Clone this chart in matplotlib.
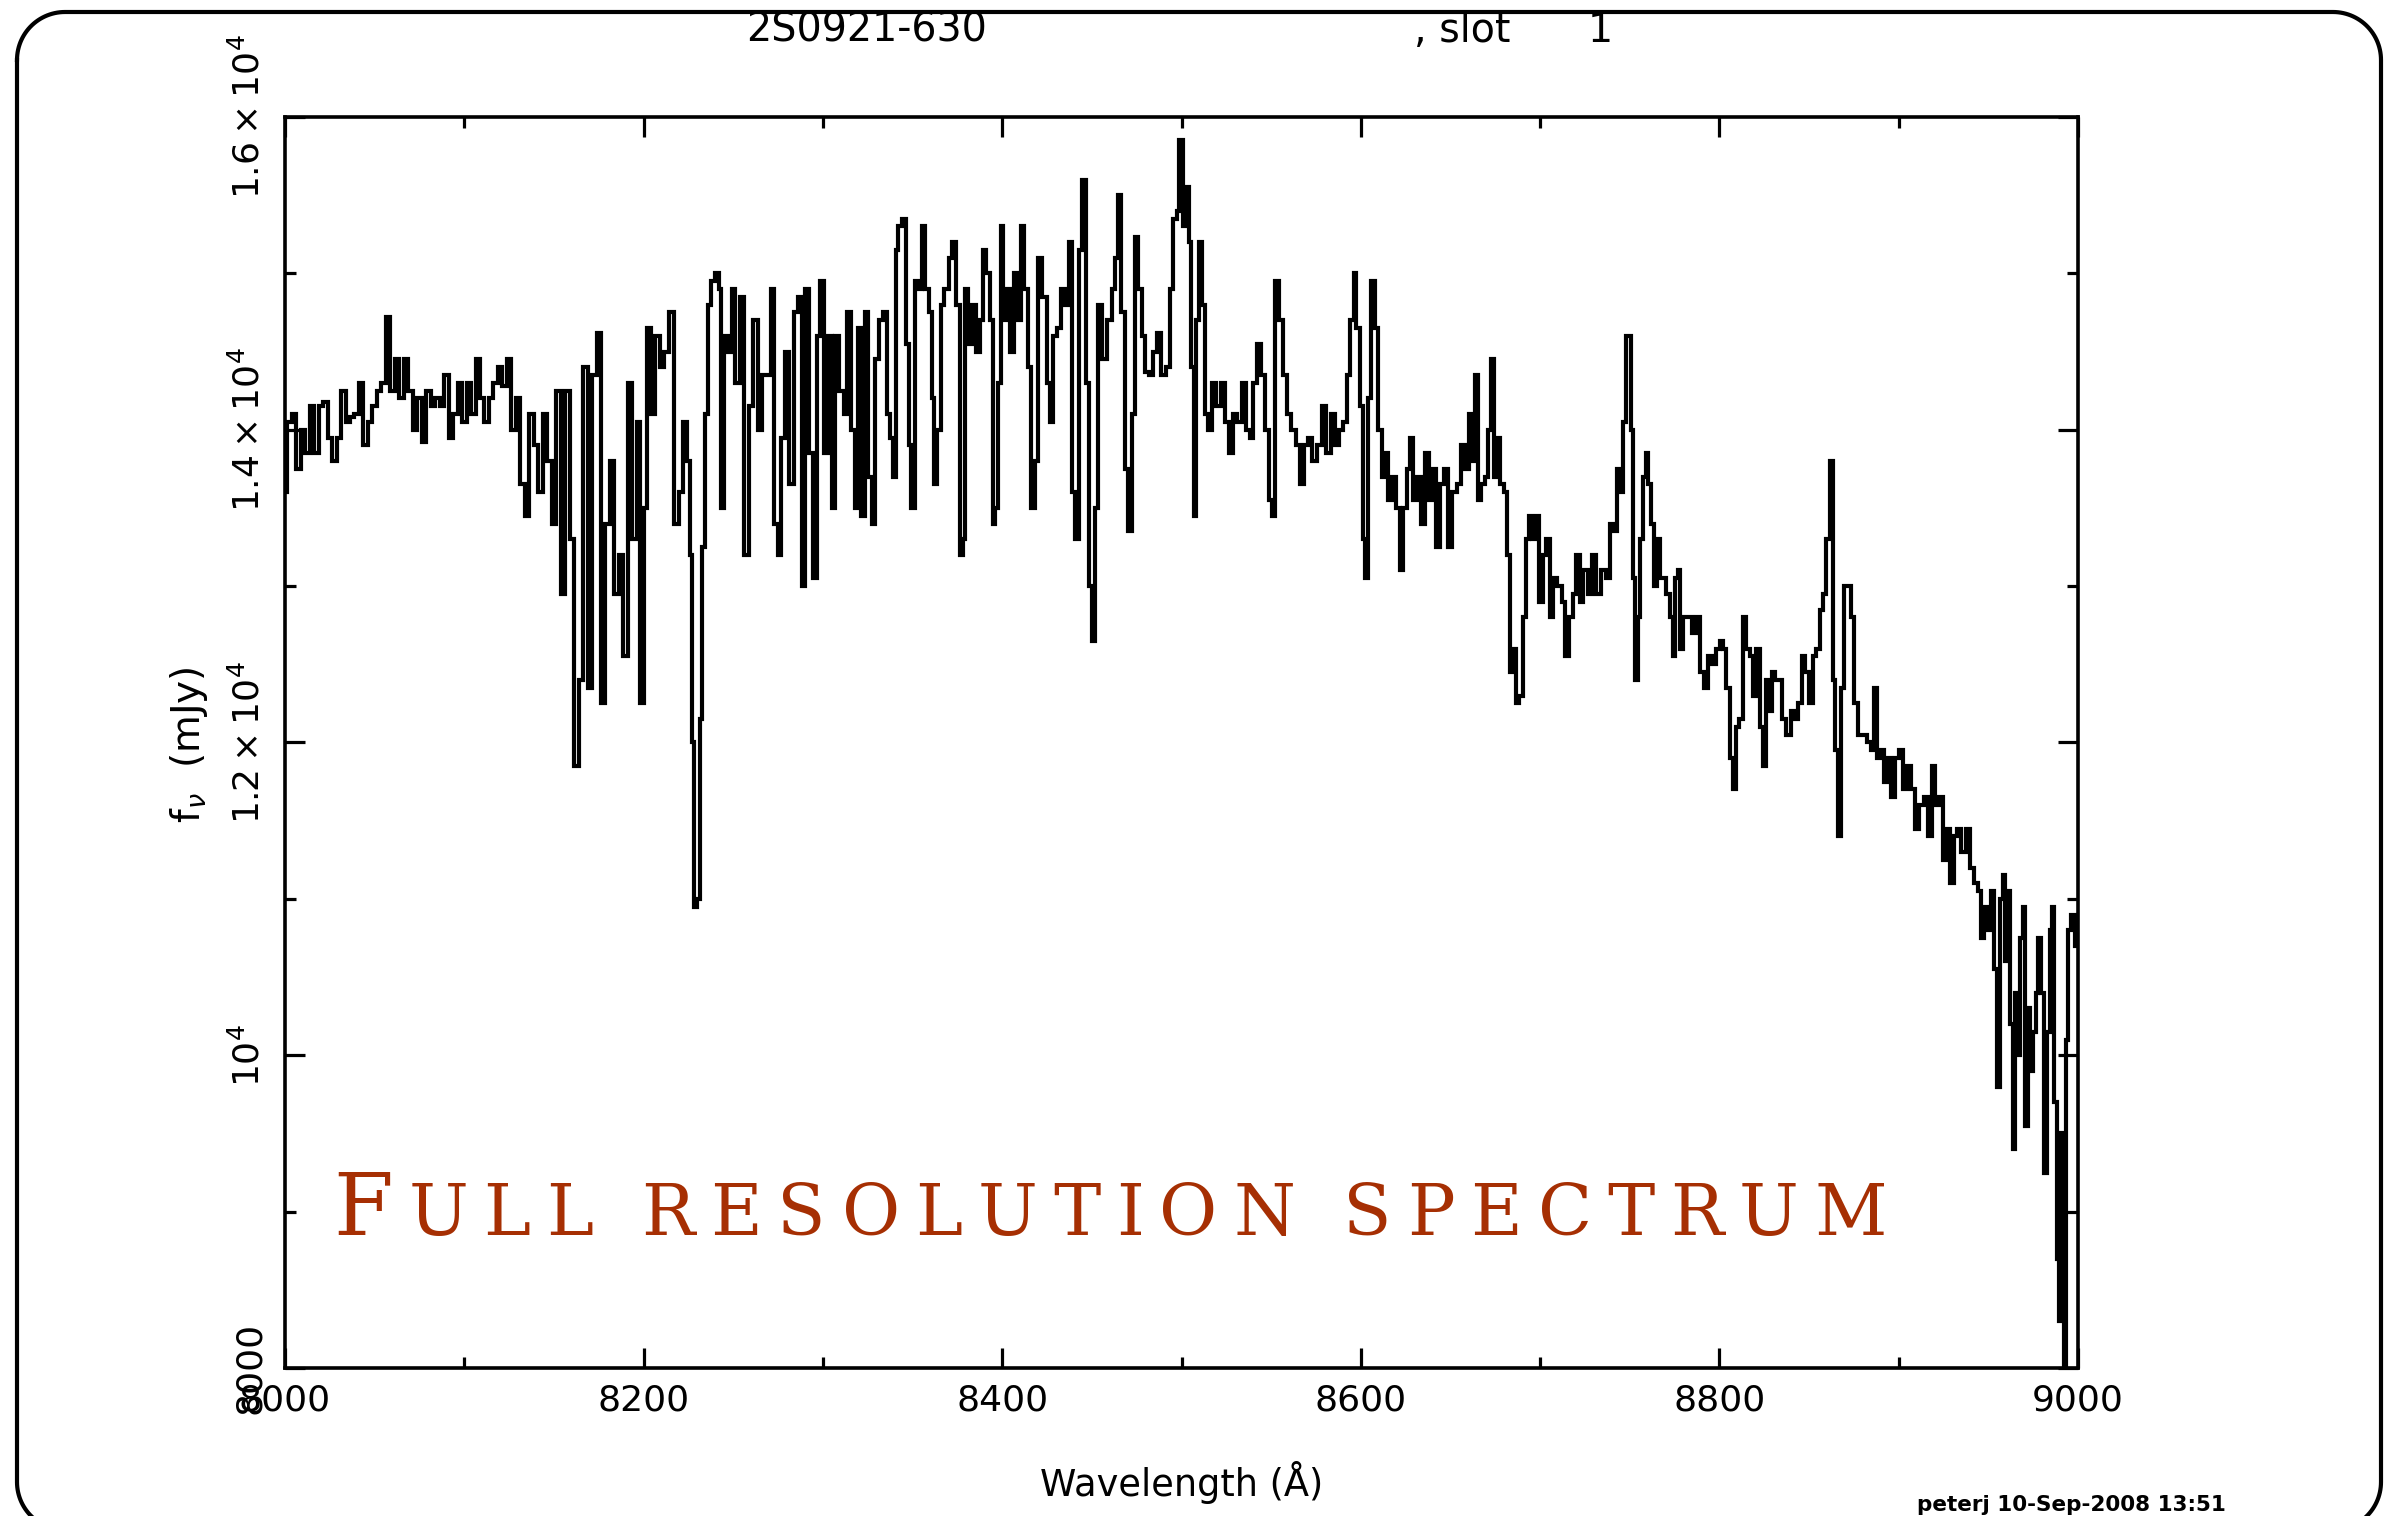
import numpy as np
import matplotlib
matplotlib.use('Agg')
import matplotlib.pyplot as plt
from matplotlib.ticker import MultipleLocator

# ---------------- data ----------------
wl_a = [8000.0, 8002.5, 8005.0, 8007.5, 8010.0, 8012.5, 8015.0, 8017.5, 8020.0, 8022.5,
        8025.0, 8027.5, 8030.0, 8032.5, 8035.0, 8037.5, 8040.0, 8042.5, 8045.0, 8047.5,
        8050.0, 8052.5, 8055.0, 8057.5, 8060.0, 8062.5, 8065.0, 8067.5, 8070.0, 8072.5,
        8075.0, 8077.5, 8080.0, 8082.5, 8085.0, 8087.5, 8090.0, 8092.5, 8095.0, 8097.5,
        8100.0, 8102.5, 8105.0, 8107.5, 8110.0, 8112.5, 8115.0, 8117.5, 8120.0, 8122.5,
        8125.0, 8127.5, 8130.0, 8132.5, 8135.0, 8137.5, 8140.0, 8142.5, 8145.0, 8147.5,
        8150.0, 8152.5, 8155.0, 8157.5, 8160.0, 8162.5, 8165.0, 8167.5, 8170.0, 8172.5,
        8175.0, 8177.5, 8180.0, 8182.5, 8185.0, 8187.5, 8190.0, 8192.5, 8195.0, 8197.5,
        8199.0, 8201.0, 8202.6, 8205.2, 8207.7, 8210.3, 8212.9, 8215.8, 8218.4, 8220.9,
        8223.1, 8225.0, 8226.4, 8227.6, 8229.0, 8230.5, 8232.0, 8233.5, 8235.0, 8236.5,
        8238.9, 8241.1, 8242.6, 8243.9, 8245.8, 8248.2]
fx_a = [13600, 14050, 14100, 13750, 14000, 13850, 14150, 13850, 14150, 14180,
        13950, 13800, 13950, 14250, 14050, 14080, 14100, 14300, 13900, 14050,
        14150, 14250, 14300, 14720, 14250, 14450, 14200, 14450, 14250, 14000,
        14200, 13920, 14250, 14150, 14200, 14150, 14350, 13950, 14100, 14300,
        14050, 14300, 14100, 14450, 14200, 14050, 14200, 14300, 14400, 14280,
        14450, 14000, 14200, 13650, 13450, 14100, 13900, 13600, 14100, 13800,
        13400, 14250, 12950, 14250, 13300, 11850, 12400, 14400, 12350, 14350,
        14620, 12250, 13400, 13800, 12950, 13200, 12550, 14300, 13300, 14050,
        12250, 13500, 14650, 14100, 14600, 14400, 14500, 14750, 13400, 13600,
        14050, 13800, 13200, 12000, 10950, 11000, 12150, 13250, 14100, 14800,
        14950, 15000, 14900, 13500, 14600, 14500]

wl_b = [8250.0, 8252.4, 8255.0, 8257.4, 8260.0, 8262.5, 8265.1, 8267.5, 8270.1, 8271.8,
        8273.8, 8275.7, 8277.5, 8279.7, 8282.5, 8285.0, 8287.6, 8288.7, 8291.3, 8293.7,
        8295.5, 8297.6, 8299.3, 8301.7, 8303.9, 8305.8, 8307.6, 8310.4, 8312.7, 8314.5,
        8316.9, 8318.8, 8320.6, 8322.1, 8324.4, 8326.2, 8328.1, 8330.3, 8332.7, 8334.6,
        8336.4, 8338.3, 8340.0, 8341.1, 8343.0, 8345.2, 8347.0, 8348.5, 8350.0, 8352.2,
        8354.1, 8356.3, 8357.8, 8360.1, 8361.5, 8362.8, 8364.7, 8366.6, 8369.0, 8371.2,
        8373.1, 8375.5, 8377.3, 8378.6, 8380.1, 8382.0, 8384.2, 8386.6, 8388.5, 8389.8,
        8392.2, 8394.1, 8395.4, 8396.9, 8398.7, 8399.7, 8401.5, 8403.4, 8405.8, 8407.7,
        8409.5, 8411.4, 8413.2, 8415.1, 8416.9, 8419.2, 8421.0, 8423.8, 8425.7, 8427.5,
        8429.4, 8431.3, 8434.0, 8435.9, 8438.1, 8439.6, 8441.5, 8443.7, 8445.6, 8447.4,
        8448.9, 8450.8, 8452.6, 8454.5, 8457.3, 8460.1, 8461.9, 8463.8, 8465.3, 8467.5,
        8469.4, 8471.2, 8473.1, 8475.0, 8476.8, 8478.7, 8480.5, 8483.3, 8485.2, 8487.0,
        8489.8, 8492.6, 8494.5, 8496.3, 8498.2, 8499.5]
fx_b = [14900, 14300, 14850, 13200, 14150, 14700, 14000, 14350, 14350, 14900,
        13400, 13200, 13950, 14500, 13650, 14750, 14850, 13000, 14900, 13850,
        13050, 14600, 14950, 13850, 14600, 13500, 14600, 14250, 14100, 14750,
        14000, 13500, 14650, 13450, 14750, 13700, 13400, 14450, 14700, 14750,
        14100, 13950, 13700, 15150, 15300, 15350, 14550, 13900, 13500, 14950,
        14900, 15300, 14900, 14750, 14200, 13650, 14000, 14800, 14900, 15100,
        15200, 14800, 13200, 13300, 14900, 14550, 14800, 14500, 14700, 15150,
        15000, 14700, 13400, 13500, 14300, 15300, 14700, 14900, 14500, 15000,
        14700, 15300, 14900, 14400, 13500, 13800, 15100, 14850, 14300, 14050,
        14600, 14650, 14900, 14800, 15200, 13600, 13300, 15150, 15600, 14300,
        13000, 12650, 13500, 14800, 14450, 14700, 14900, 15100, 15500, 14750,
        13750, 13350, 14100, 15230, 14900, 14600, 14370, 14350, 14500, 14620,
        14350, 14400, 14900, 15350, 15400, 15850]

wl_c = [8500.0, 8501.5, 8503.7, 8505.0, 8506.1, 8507.4, 8508.7, 8510.8, 8512.5, 8514.0,
        8515.8, 8517.7, 8520.4, 8523.2, 8525.1, 8527.5, 8529.7, 8532.5, 8534.8, 8537.2,
        8539.0, 8540.9, 8543.3, 8545.5, 8548.0, 8549.8, 8551.1, 8553.5, 8555.4, 8557.6,
        8559.9, 8562.3, 8565.1, 8566.9, 8569.2, 8571.6, 8574.4, 8576.6, 8579.6, 8581.8,
        8584.6, 8586.4, 8588.9, 8591.1, 8593.3, 8595.2, 8596.7, 8598.5, 8600.4, 8601.9,
        8603.2, 8605.0, 8606.9, 8608.8, 8610.6, 8612.5, 8614.3, 8616.2, 8619.0, 8620.8,
        8622.7, 8624.6, 8626.4, 8628.3, 8630.1, 8632.4, 8634.2, 8637.2, 8639.4, 8641.3,
        8643.1, 8645.4, 8647.8, 8649.7, 8652.1, 8655.2, 8657.1, 8659.5, 8660.8, 8662.7,
        8664.5, 8666.4, 8668.2, 8670.1, 8671.4, 8673.3, 8675.1, 8677.0, 8678.8, 8680.7,
        8682.2, 8684.0, 8685.9, 8687.4, 8689.6, 8691.1, 8693.0, 8694.8, 8696.7, 8698.6,
        8700.4, 8702.6, 8704.5, 8706.4, 8708.2, 8711.0, 8712.9, 8715.3, 8717.1, 8719.4,
        8721.2, 8723.1, 8725.3, 8727.7, 8730.5, 8732.4, 8735.2, 8738.0, 8740.2, 8742.1,
        8743.5, 8745.4, 8747.3, 8748.7]
fx_c = [15850, 15300, 15550, 15200, 14400, 13450, 14700, 15200, 14800, 14100,
        14000, 14300, 14150, 14300, 14050, 13850, 14100, 14050, 14300, 14000,
        13950, 14300, 14550, 14350, 14000, 13550, 13450, 14950, 14700, 14350,
        14100, 14000, 13900, 13650, 13900, 13950, 13800, 13900, 14150, 13850,
        14100, 13900, 14000, 14050, 14350, 14700, 15000, 14650, 14150, 13300,
        13050, 14200, 14950, 14650, 14000, 13700, 13850, 13550, 13700, 13500,
        13100, 13500, 13750, 13950, 13550, 13700, 13400, 13850, 13550, 13750,
        13250, 13650, 13750, 13250, 13600, 13650, 13900, 13750, 14100, 13800,
        14350, 13550, 13650, 13700, 14000, 14450, 13700, 13950, 13650, 13600,
        13200, 12450, 12600, 12250, 12300, 12800, 13300, 13450, 13300, 13450,
        12900, 13200, 13300, 12800, 13050, 13000, 12900, 12550, 12800, 12950,
        13200, 12900, 13100, 12950, 13200, 12950, 13100, 13050, 13400, 13350,
        13750, 13600, 14050, 14600]

wl_d = [8750.0, 8751.5, 8752.4, 8753.7, 8755.2, 8756.5, 8758.4, 8759.7, 8761.2, 8763.0,
        8764.5, 8765.8, 8767.7, 8769.5, 8771.4, 8773.2, 8774.5, 8776.0, 8777.5, 8778.8,
        8780.7, 8783.5, 8786.3, 8788.1, 8790.0, 8792.4, 8794.6, 8797.4, 8799.3, 8801.1,
        8803.0, 8804.8, 8806.7, 8808.6, 8809.9, 8812.3, 8814.1, 8816.0, 8817.9, 8819.7,
        8821.6, 8823.4, 8824.9, 8826.6, 8828.5, 8830.3, 8832.2, 8834.0, 8835.9, 8838.3,
        8841.1, 8843.0, 8845.2, 8847.0, 8848.9, 8851.3, 8853.2, 8855.0, 8856.9, 8858.8,
        8860.6, 8862.5, 8863.8, 8865.3, 8867.1, 8869.0, 8870.5, 8872.3, 8874.2, 8876.4,
        8878.6, 8881.1, 8883.5, 8885.7, 8887.2, 8888.5, 8890.9, 8893.2, 8895.0, 8896.9,
        8898.7, 8901.5, 8903.4, 8905.8, 8908.0, 8910.3, 8912.7, 8915.1, 8917.3, 8919.5,
        8921.4, 8923.3, 8925.7, 8927.5, 8930.0, 8931.8, 8933.7, 8935.9, 8938.7, 8941.1,
        8943.3, 8945.2, 8947.1, 8948.5, 8950.4, 8952.3, 8954.1, 8956.0, 8957.3, 8958.6,
        8960.1, 8961.6, 8963.0, 8964.3, 8965.7, 8967.1, 8968.6, 8970.1, 8971.2, 8972.7,
        8974.2, 8975.7, 8977.2, 8978.7, 8980.2, 8982.0, 8983.5, 8985.0, 8986.1, 8987.6,
        8988.7, 8989.8, 8990.7, 8991.6, 8992.6, 8993.9, 8995.4, 8997.2, 8999.1, 9000.6]
fx_d = [14600, 14000, 13050, 12400, 12800, 13300, 13700, 13850, 13650, 13400,
        13000, 13300, 13050, 13050, 12950, 12800, 12550, 13050, 13100, 12600,
        12800, 12800, 12700, 12800, 12450, 12350, 12550, 12500, 12600, 12650,
        12600, 12350, 11900, 11700, 12100, 12150, 12800, 12600, 12550, 12300,
        12600, 12100, 11850, 12400, 12200, 12450, 12400, 12400, 12150, 12050,
        12200, 12150, 12250, 12550, 12450, 12250, 12550, 12600, 12850, 12950,
        13300, 13800, 12400, 11950, 11400, 12350, 13000, 13000, 12800, 12250,
        12050, 12050, 12000, 11950, 12350, 11900, 11950, 11750, 11900, 11650,
        11900, 11950, 11700, 11850, 11700, 11450, 11600, 11650, 11400, 11850,
        11600, 11650, 11250, 11450, 11100, 11400, 11450, 11300, 11450, 11200,
        11100, 11050, 10750, 10950, 10800, 11050, 10550, 9800, 11000, 11150,
        10600, 11050, 10200, 9400, 10400, 10000, 10750, 10950, 9550, 10300,
        9900, 10150, 10400, 10750, 10400, 9250, 10150, 10800, 10950, 9700,
        8700, 8300, 9500, 8800, 8000, 10100, 10800, 10900, 10700, 10900]

xtick_major = [8000, 8200, 8400, 8600, 8800, 9000]
xtick_labels = ['8000', '8200', '8400', '8600', '8800', '9000']
ytick_major = [8000, 10000, 12000, 14000, 16000]
ytick_labels = ['8000', r'$10^{4}$', r'$1.2\times10^{4}$', r'$1.4\times10^{4}$', r'$1.6\times10^{4}$']

title_obj = '2S0921-630'
title_slot = ', slot'
title_num = '1'
footer = 'peterj 10-Sep-2008 13:51'
banner_words = ['FULL', 'RESOLUTION', 'SPECTRUM']

wl = np.array(wl_a + wl_b + wl_c + wl_d)
fx = np.array(fx_a + fx_b + fx_c + fx_d, dtype=float)

# ---------------- figure ----------------
W, H = 2397, 1516
plt.rcParams['font.family'] = ['DejaVu Sans']
fig = plt.figure(figsize=(W / 100, H / 100), dpi=100)
fig.patch.set_facecolor('white')

# decorative rounded frame, drawn in pixel coordinates
bg = fig.add_axes([0, 0, 1, 1], zorder=0)
bg.set_xlim(0, W)
bg.set_ylim(H, 0)
bg.axis('off')
fx0, fx1, fy0, fy1, rad = 17, 2381, 12, 1530, 48
def corner(cx, cy, a0, a1):
    t = np.radians(np.linspace(a0, a1, 30))
    return list(cx + rad * np.cos(t)), list(cy + rad * np.sin(t))
xs, ys = [], []
for cx, cy, a0, a1 in [(fx0 + rad, fy0 + rad, 180, 270), (fx1 - rad, fy0 + rad, 270, 360),
                       (fx1 - rad, fy1 - rad, 0, 90), (fx0 + rad, fy1 - rad, 90, 180)]:
    cxs, cys = corner(cx, cy, a0, a1)
    xs += cxs
    ys += cys
xs.append(xs[0])
ys.append(ys[0])
bg.plot(xs, ys, color='black', lw=3.0, solid_joinstyle='round')

L, R, T, B = 285, 2078, 117, 1368
ax = fig.add_axes([L / W, 1 - B / H, (R - L) / W, (B - T) / H], zorder=1)
ax.patch.set_alpha(0)
ax.plot(wl, fx, drawstyle='steps-mid', color='black', lw=3.0, solid_joinstyle='miter')
ax.set_xlim(8000, 9000)
ax.set_ylim(8000, 16000)

ax.set_xticks(xtick_major)
ax.set_xticklabels(xtick_labels)
ax.xaxis.set_minor_locator(MultipleLocator(100))
ax.set_yticks(ytick_major)
ax.set_yticklabels(ytick_labels)
ax.yaxis.set_minor_locator(MultipleLocator(1000))

for s in ax.spines.values():
    s.set_linewidth(2.6)
ax.tick_params(which='both', direction='in', top=True, right=True, width=2.3, colors='black')
ax.tick_params(which='major', length=14.5)
ax.tick_params(which='minor', length=8)
ax.tick_params(axis='x', labelsize=26, pad=11)
ax.tick_params(axis='y', labelsize=26, pad=13)
for lab in ax.get_yticklabels():
    lab.set_rotation(90)
    lab.set_va('center')
    lab.set_ha('right')

def px(x, y):
    return x / W, 1 - y / H

# axis labels
fig.text(*px(189, 745), r'f$_{\nu}$  (mJy)', rotation=90, ha='center', va='center', fontsize=28)
fig.text(*px(1182, 1483), 'Wavelength (Å)', ha='center', va='center', fontsize=26.5)

# title pieces
fig.text(*px(746, 42), title_obj, ha='left', va='baseline', fontsize=28.5)
fig.text(*px(1414, 42), title_slot, ha='left', va='baseline', fontsize=28.5)
fig.text(*px(1613, 42), title_num, ha='right', va='baseline', fontsize=28.5)

# footer
fig.text(*px(1917, 1511), footer, ha='left', va='baseline', fontsize=15.5, fontweight='bold')

# red small-caps banner
red = '#A62F03'
renderer = fig.canvas.get_renderer()
items = []
for wi, w in enumerate(banner_words):
    for ci, c in enumerate(w):
        size = 62 if (wi == 0 and ci == 0) else 51
        items.append((wi, ci, c, size))
widths = []
for wi, ci, c, s in items:
    t = fig.text(0, 0, c, fontsize=s, family='DejaVu Serif')
    widths.append(t.get_window_extent(renderer).width)
    t.remove()
x0, x1, base = 333, 1887, 1235
word_gap = 48
n_gaps = sum(len(w) - 1 for w in banner_words)
g = (x1 - x0 - sum(widths) - word_gap * (len(banner_words) - 1)) / n_gaps
x = x0
prev_word = 0
for (wi, ci, c, s), wd in zip(items, widths):
    if wi != prev_word:
        x += word_gap - g
        prev_word = wi
    fig.text(*px(x, base), c, fontsize=s, family='DejaVu Serif', color=red,
             ha='left', va='baseline')
    x += wd + g

fig.savefig('out.png', dpi=100)
